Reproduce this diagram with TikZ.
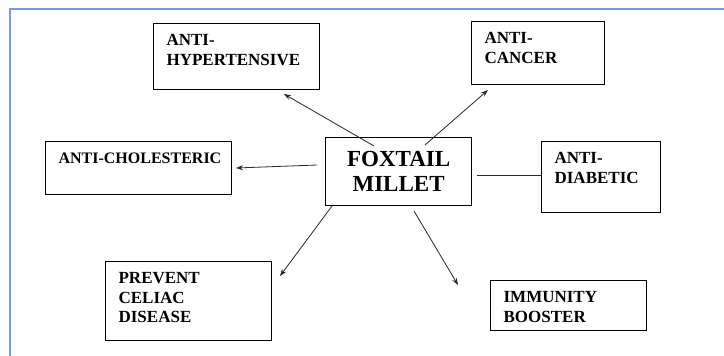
\documentclass[tikz,border=0pt]{standalone}
\usepackage{fontspec}
\setmainfont{Liberation Serif}
\usetikzlibrary{arrows.meta}
\definecolor{frameblue}{RGB}{126,157,206}
\definecolor{inkgray}{RGB}{40,40,40}

\tikzset{
  benefit/.style={draw, line width=1.2pt, anchor=north west, align=left,
    inner xsep=13pt, inner ysep=0pt, text height=22pt,
    font=\bfseries\fontsize{17}{19.5}\selectfont},
  hub/.style={draw, line width=1.2pt, anchor=north west, align=center,
    minimum width=146pt, minimum height=68pt,
    font=\bfseries\fontsize{23}{25}\selectfont},
  link/.style={-{Stealth[length=7pt,width=5pt]}, inkgray, line width=0.8pt}
}

\begin{document}
\begin{tikzpicture}[x=1pt,y=-1pt]
\useasboundingbox (0,0) rectangle (724,356);

% outer frame
\draw [frameblue, line width=2pt] (10,356) -- (10,9) -- (724,9);

% centre box
\node [hub] (fox) at (325,137) {FOXTAIL\\MILLET};

% surrounding boxes
\node [benefit, text width=140pt, text depth=44pt] (hyp) at (153,23) {ANTI-\\HYPERTENSIVE};
\node [benefit, text width=107pt, text depth=41pt] (can) at (471,21) {ANTI-\\CANCER};
\node [benefit, text width=160pt, text depth=31pt, font=\bfseries\fontsize{16}{19.5}\selectfont] (chol) at (45,141) {\mbox{ANTI-CHOLESTERIC}};
\node [benefit, text width=93pt, text depth=49pt] (dia) at (541,141) {ANTI-\\DIABETIC};
\node [benefit, text width=140pt, text depth=57pt] (cel) at (105,261) {PREVENT\\CELIAC\\DISEASE};
\node [benefit, text width=130pt, text depth=28pt] (imm) at (490,280) {IMMUNITY\\BOOSTER};

% arrows out of the centre
\draw [link] ([shift={(49,9)}]fox.north west) -- ([shift={(131,71)}]hyp.north west);
\draw [link] ([shift={(100,8)}]fox.north west) -- ([shift={(17,69)}]can.north west);
\draw [link] ([shift={(-8,28)}]fox.north west) -- ([shift={(191,27)}]chol.north west);
\draw [inkgray, line width=0.8pt] ([shift={(152,38)}]fox.north west) -- ([shift={(0,34)}]dia.north west);
\draw [link] ([shift={(7,69)}]fox.north west) -- ([shift={(175,15)}]cel.north west);
\draw [link] ([shift={(89,74)}]fox.north west) -- ([shift={(-32,5)}]imm.north west);
\end{tikzpicture}
\end{document}
